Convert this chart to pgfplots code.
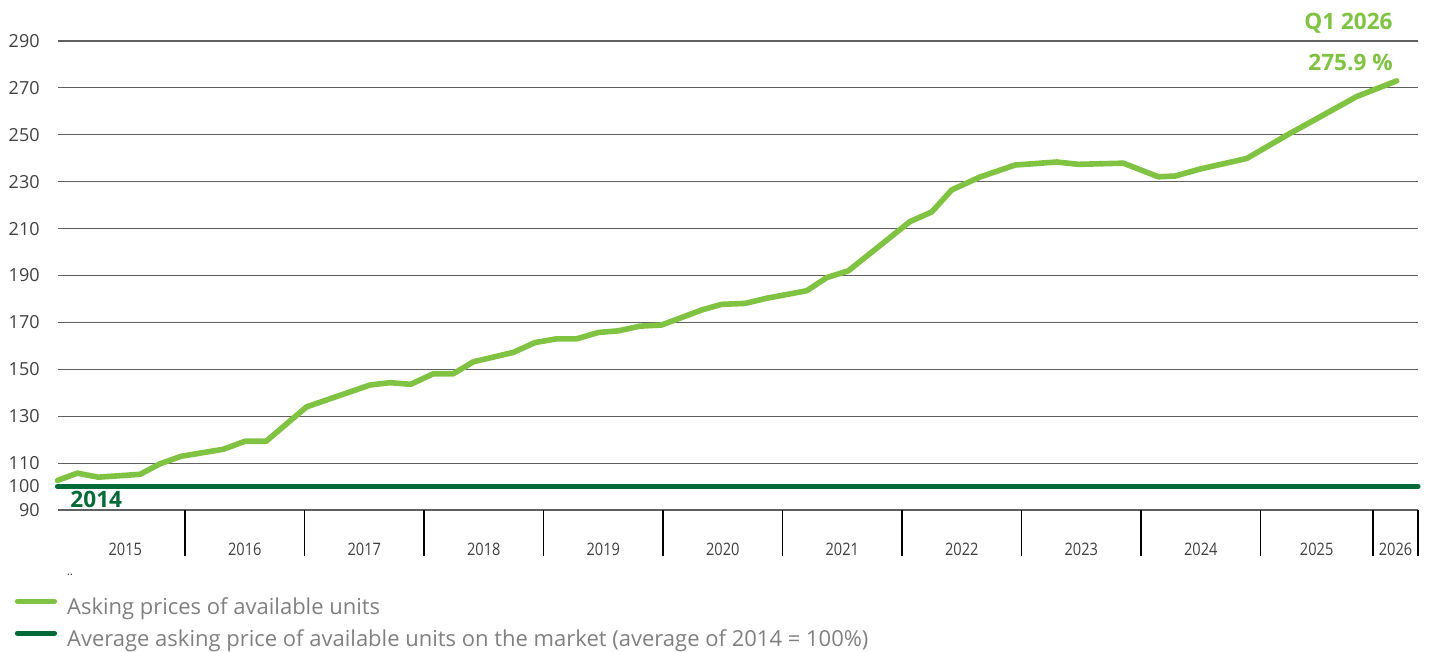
\documentclass[border=0pt]{standalone}
\usepackage{pgfplots}
\pgfplotsset{compat=1.18}
\usepackage{fontspec}
\setmainfont{Open Sans}
\newfontfamily\condfont[FakeStretch=0.85]{Open Sans}
\definecolor{lgreen}{RGB}{128,194,66}
\definecolor{dgreen}{RGB}{4,106,56}
\definecolor{txt}{RGB}{64,64,64}
\definecolor{legtxt}{RGB}{128,128,128}
\definecolor{gridc}{RGB}{95,95,95}

\pgfplotstableread{
x y
2014.933 102.6
2015.099 105.7
2015.274 104.0
2015.623 105.2
2015.791 109.7
2015.967 112.9
2016.321 115.9
2016.502 119.3
2016.678 119.3
2017.018 134.0
2017.548 143.3
2017.715 144.3
2017.889 143.6
2018.078 148.1
2018.245 148.1
2018.413 153.2
2018.747 157.2
2018.929 161.4
2019.110 163.0
2019.278 163.0
2019.459 165.7
2019.626 166.4
2019.808 168.4
2019.989 168.9
2020.142 171.8
2020.324 175.3
2020.491 177.7
2020.686 178.1
2020.868 180.3
2021.203 183.5
2021.370 189.1
2021.551 192.0
2022.067 213.0
2022.249 217.1
2022.416 226.5
2022.653 232.0
2022.946 237.1
2023.295 238.4
2023.475 237.4
2023.852 237.9
2024.145 232.1
2024.285 232.4
2024.494 235.4
2024.885 239.9
2025.219 249.8
2025.805 266.3
2026.140 273.0
}\asking

\pgfplotstableread{
x y
2014.933 100
2026.318 100
}\base

\begin{document}
\begin{tikzpicture}
\begin{axis}[
  at={(29pt,71pt)}, anchor=south west,
  scale only axis, width=680pt, height=234.5pt,
  xmin=2014.937, xmax=2026.318, ymin=90, ymax=290,
  clip=false,
  axis line style={draw=none},
  xtick pos=lower, ytick pos=left,
  /pgf/number format/assume math mode=true,
  ytick={90,100,110,130,150,170,190,210,230,250,270,290},
  ymajorgrids,
  major grid style={draw=gridc, line width=0.55pt},
  major tick length=0pt,
  yticklabel style={font=\fontsize{9}{10}\selectfont, text=txt, inner sep=0pt, anchor=east, xshift=-9pt},
  xtick={2015.5,2016.5,2017.5,2018.5,2019.5,2020.5,2021.5,2022.5,2023.5,2024.5,2025.47,2026.13},
  xticklabels={2015,2016,2017,2018,2019,2020,2021,2022,2023,2024,2025,2026},
  xticklabel style={font=\condfont\fontsize{8.6}{10}\selectfont, text=txt, inner sep=0pt, anchor=north, yshift=-16.5pt},
  extra x ticks={2016,2017,2018,2019,2020,2021,2022,2023,2024,2025,2025.941,2026.318},
  extra x tick labels={},
  extra x tick style={major tick length=23pt, tick align=outside, xtick pos=lower, xtick style={draw=black, line width=0.6pt}},
  legend style={at={(-0.0320,-0.186)}, anchor=north west, draw=none, fill=none, inner sep=0pt,
    font=\fontsize{11}{12}\selectfont, text=legtxt, cells={anchor=west},
    nodes={inner sep=0pt, text height=8.4pt, text depth=2.6pt}, row sep=5pt,
    /tikz/every odd column/.append style={column sep=5pt}},
  legend image code/.code={\draw[#1, line width=2.6pt, line cap=round] (0pt,3.7pt) -- (18.5pt,3.7pt);},
]
\addplot[lgreen, line width=2.8pt, line join=round, line cap=round, no marks] table[x=x,y=y] {\asking};
\addlegendentry{Asking prices of available units}
\addplot[dgreen, line width=2.6pt, line cap=round, no marks] table[x=x,y=y] {\base};
\addlegendentry{Average asking price of available units on the market (average of 2014 = 100\%)}

\node[anchor=base west, inner sep=0pt, text=dgreen, font=\bfseries\fontsize{11.3}{12}\selectfont] at (axis cs:2015.038,90.85) {2014};
\node[anchor=base east, inner sep=0pt, text=lgreen, font=\bfseries\fontsize{11.3}{12}\selectfont] at (axis cs:2026.109,295.0) {Q1 2026};
\node[anchor=base east, inner sep=0pt, text=lgreen, font=\bfseries\fontsize{11.3}{12}\selectfont] at (axis cs:2026.109,277.6) {275.9 \%};
\node[inner sep=0pt, text=txt, font=\fontsize{6}{6}\selectfont] at (axis description cs:0.0088,-0.1386) {..};
\end{axis}
\pgfresetboundingbox
\path[use as bounding box] (0pt,0pt) rectangle (716pt,326pt);
\end{tikzpicture}
\end{document}
